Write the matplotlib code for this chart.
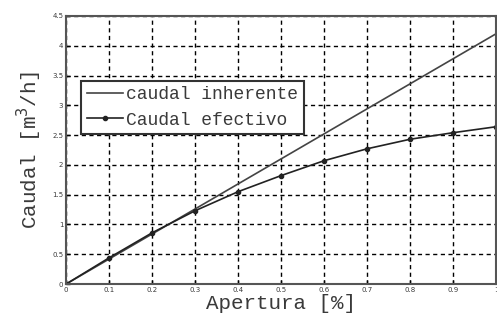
import matplotlib
matplotlib.use("Agg")
import matplotlib.pyplot as plt

apertura = [0, 0.1, 0.2, 0.3, 0.4, 0.5, 0.6, 0.7, 0.8, 0.9, 1.0]
caudal_inherente = [0, 0.42, 0.84, 1.26, 1.68, 2.1, 2.52, 2.94, 3.36, 3.78, 4.2]
caudal_efectivo = [0, 0.44, 0.86, 1.23, 1.55, 1.82, 2.07, 2.27, 2.43, 2.54, 2.64]

xticks = [0, 0.1, 0.2, 0.3, 0.4, 0.5, 0.6, 0.7, 0.8, 0.9, 1]
yticks = [0, 0.5, 1, 1.5, 2, 2.5, 3, 3.5, 4, 4.5]

mono = ["Liberation Mono", "DejaVu Sans Mono"]
txt = "#3a3a3a"

fig = plt.figure(figsize=(4.97, 3.25), dpi=100)
ax = fig.add_axes([0.133, 0.126, 0.865, 0.825])

ax.plot(apertura, caudal_inherente, color="#444444", lw=1.2, label="caudal inherente")
ax.plot(apertura, caudal_efectivo, color="#222222", lw=1.2, marker=".", ms=6,
        label="Caudal efectivo")

ax.set_xlim(0, 1)
ax.set_ylim(0, 4.5)
ax.set_xticks(xticks)
ax.set_yticks(yticks)
ax.set_xticklabels([("%g" % v) for v in xticks], fontsize=5, color=txt)
ax.set_yticklabels([("%g" % v) for v in yticks], fontsize=5, color=txt)
ax.tick_params(direction="in", length=3, width=1, pad=2)
ax.grid(True, color="black", linestyle=(0, (3, 2.5)), linewidth=1)
for s in ax.spines.values():
    s.set_color("#555555")
    s.set_linewidth(1.5)

ax.set_xlabel("Apertura [%]", fontsize=15, family=mono, color=txt, labelpad=1)
ax.set_ylabel("Caudal [m$^3$/h]", fontsize=15, family=mono, color=txt, labelpad=6)

leg = ax.legend(loc="upper left", bbox_to_anchor=(0.035, 0.757), prop={"family": mono, "size": 13},
                fancybox=False, framealpha=1, edgecolor="#333333", borderpad=0.3,
                handlelength=2.0, handletextpad=0.2, labelspacing=0.45, borderaxespad=0)
leg.get_frame().set_linewidth(1.5)
for t in leg.get_texts():
    t.set_color(txt)

fig.savefig("out.png", dpi=100)
